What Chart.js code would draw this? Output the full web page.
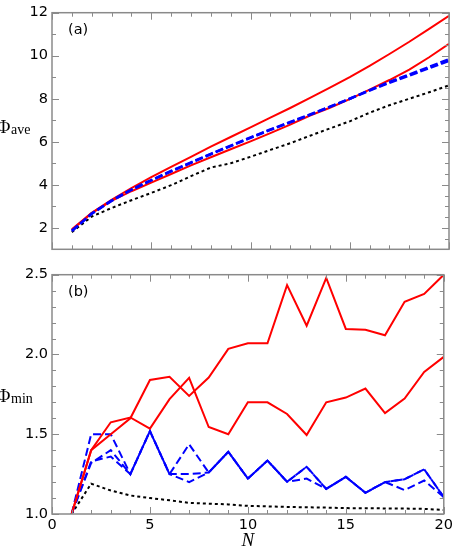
<!DOCTYPE html>
<html>
<head>
<meta charset="utf-8">
<script src="https://cdn.jsdelivr.net/npm/chart.js@4.4.0/dist/chart.umd.min.js"></script>
<style>
body { margin: 0; background: #fff; width: 456px; height: 550px; position: relative; overflow: hidden; }
#chartA { position: absolute; left: 0; top: 0; }
#chartB { position: absolute; left: 0; top: 262px; }
</style>
</head>
<body>
<canvas id="chartA" width="456" height="262"></canvas>
<canvas id="chartB" width="456" height="288"></canvas>
<script>
// N on the x axis
var N = [1, 2, 3, 4, 5, 6, 7, 8, 9, 10, 11, 12, 13, 14, 15, 16, 17, 18, 19, 20];
var xTicks = [0, 5, 10, 15, 20];

// panel (a): Phi_ave
var aveTicks = [2, 4, 6, 8, 10, 12];
var aveRedUpper = [1.93, 2.70, 3.30, 3.85, 4.35, 4.83, 5.30, 5.77, 6.22, 6.67, 7.12, 7.57, 8.04, 8.52, 9.00, 9.53, 10.08, 10.65, 11.25, 11.85];
var aveRedLower = [1.90, 2.68, 3.25, 3.70, 4.10, 4.50, 4.90, 5.28, 5.65, 6.02, 6.40, 6.80, 7.22, 7.58, 7.98, 8.42, 8.87, 9.35, 9.93, 10.55];
var aveBlue1 = [1.86, 2.66, 3.27, 3.78, 4.22, 4.64, 5.04, 5.44, 5.82, 6.20, 6.57, 6.92, 7.27, 7.63, 8.00, 8.38, 8.74, 9.08, 9.42, 9.76];
var aveBlue2 = [1.85, 2.65, 3.25, 3.76, 4.20, 4.62, 5.02, 5.42, 5.80, 6.18, 6.55, 6.90, 7.25, 7.62, 8.00, 8.40, 8.78, 9.13, 9.48, 9.84];
var aveBlack = [1.80, 2.52, 2.92, 3.28, 3.62, 3.98, 4.40, 4.80, 5.00, 5.30, 5.62, 5.93, 6.28, 6.62, 6.95, 7.35, 7.70, 8.00, 8.30, 8.62];

// panel (b): Phi_min
var minTicks = [1.0, 1.5, 2.0, 2.5];
var minRedA = [1.0, 1.40, 1.50, 1.60, 1.84, 1.86, 1.74, 1.855, 2.035, 2.07, 2.07, 2.435, 2.18, 2.48, 2.16, 2.155, 2.12, 2.33, 2.38, 2.50];
var minRedB = [1.0, 1.40, 1.575, 1.605, 1.535, 1.72, 1.853, 1.545, 1.50, 1.70, 1.70, 1.627, 1.495, 1.70, 1.73, 1.786, 1.633, 1.724, 1.89, 1.985];
var minBlue1 = [1.0, 1.50, 1.50, 1.25, 1.52, 1.25, 1.25, 1.26, 1.39, 1.222, 1.335, 1.202, 1.296, 1.157, 1.233, 1.133, 1.20, 1.218, 1.28, 1.106];
var minBlue2 = [1.0, 1.32, 1.40, 1.25, 1.52, 1.25, 1.437, 1.26, 1.39, 1.222, 1.335, 1.202, 1.222, 1.157, 1.233, 1.133, 1.20, 1.15, 1.21, 1.106];
var minBlue3 = [1.0, 1.33, 1.36, 1.25, 1.52, 1.25, 1.20, 1.26, 1.39, 1.222, 1.335, 1.202, 1.296, 1.157, 1.233, 1.133, 1.20, 1.218, 1.28, 1.106];
var minBlack = [1.0, 1.19, 1.147, 1.116, 1.10, 1.086, 1.07, 1.065, 1.06, 1.051, 1.048, 1.044, 1.042, 1.04, 1.037, 1.036, 1.035, 1.034, 1.032, 1.025];

var axisColor = '#8a8a8a';
Chart.defaults.font.family = "'DejaVu Sans'";
Chart.defaults.color = '#000';

function line(vals, color, width, dash) {
    return {
        data: N.map(function(n, i) { return {x: n, y: vals[i]}; }),
        borderColor: color,
        borderWidth: width,
        borderDash: dash || [],
        borderCapStyle: 'butt',
        pointRadius: 0,
        fill: false,
        tension: 0
    };
}

// frame, inward ticks, panel letter and axis labels
var framePlugin = {
    id: 'frame',
    afterDraw: function(chart, args, o) {
        var ctx = chart.ctx, a = chart.chartArea;
        var xs = chart.scales.x, ys = chart.scales.y;
        ctx.save();
        ctx.strokeStyle = axisColor;
        ctx.lineWidth = 1;
        ctx.beginPath();
        var i, v, p, len;
        for (i = 0; i <= 20; i++) {
            v = xs.min + i;
            p = Math.round(xs.getPixelForValue(v)) + 0.5;
            len = (i % 5 === 0) ? 7 : 4;
            ctx.moveTo(p, a.bottom); ctx.lineTo(p, a.bottom - len);
            ctx.moveTo(p, a.top); ctx.lineTo(p, a.top + len);
        }
        function yTicks(step, x, dir) {
            var n = Math.round((ys.max - ys.min) / step);
            for (var k = 0; k <= n; k++) {
                var val = ys.min + k * step;
                var major = o.majors.some(function(m) { return Math.abs(m - val) < 1e-6; });
                var py = Math.round(ys.getPixelForValue(val)) + 0.5;
                ctx.moveTo(x, py); ctx.lineTo(x + dir * (major ? 7 : 4), py);
            }
        }
        yTicks(o.leftStep, a.left, 1);
        yTicks(o.rightStep, a.right, -1);
        ctx.stroke();
        ctx.lineWidth = 1.5;
        ctx.strokeRect(a.left, a.top, a.right - a.left, a.bottom - a.top);

        ctx.fillStyle = '#000';
        ctx.font = "14.5px 'DejaVu Sans'";
        ctx.textBaseline = 'middle';
        ctx.textAlign = 'left';
        ctx.fillText(o.letter, a.left + 16, a.top + 18);

        ctx.textBaseline = 'alphabetic';
        ctx.textAlign = 'right';
        ctx.font = "19px 'Liberation Serif'";
        ctx.fillText('\u03A6', 10.5, a.top + o.labelY);
        ctx.textAlign = 'left';
        ctx.font = "14px 'Liberation Serif'";
        ctx.fillText(o.sub, 11, a.top + o.labelY + 1.5);

        if (o.xTitle) {
            ctx.textAlign = 'center';
            ctx.font = "italic 19px 'Liberation Serif'";
            ctx.fillText('N', (a.left + a.right) / 2, a.bottom + 31.5);
        }
        ctx.restore();
    }
};

function makeOptions(yMin, yMax, yTickVals, yFmt, showX, padTop, padBottom, frameOpts) {
    return {
        responsive: false,
        animation: false,
        layout: { padding: { left: 0, right: 7, top: padTop, bottom: padBottom } },
        plugins: { legend: { display: false }, tooltip: { enabled: false }, frame: frameOpts },
        scales: {
            x: {
                type: 'linear', min: 0, max: 20,
                display: showX,
                afterBuildTicks: function(s) { s.ticks = xTicks.map(function(v) { return {value: v}; }); },
                afterFit: function(s) { if (showX) s.height = 36; },
                grid: { display: false, drawTicks: false },
                border: { display: false },
                ticks: { padding: 3, maxRotation: 0, font: { size: 14.5 }, color: '#000' }
            },
            y: {
                type: 'linear', min: yMin, max: yMax,
                afterBuildTicks: function(s) { s.ticks = yTickVals.map(function(v) { return {value: v}; }); },
                afterFit: function(s) { s.width = 52; },
                grid: { display: false, drawTicks: false },
                border: { display: false },
                ticks: { padding: 4, font: { size: 14.5 }, color: '#000', callback: yFmt }
            }
        }
    };
}

new Chart(document.getElementById('chartA'), {
    type: 'line',
    data: {
        datasets: [
            line(aveBlue1, '#0000ff', 2.5, [8, 3]),
            line(aveBlue2, '#0000ff', 2.5, [8, 3]),
            line(aveRedUpper, '#ff0000', 2),
            line(aveRedLower, '#ff0000', 2),
            line(aveBlack, '#000000', 2, [3, 3])
        ]
    },
    options: makeOptions(1, 12, aveTicks, function(v) { return String(v); }, false, 8, 5,
        { majors: aveTicks, leftStep: 1, rightStep: 0.5, letter: '(a)', sub: 'ave', labelY: 120 }),
    plugins: [framePlugin]
});

new Chart(document.getElementById('chartB'), {
    type: 'line',
    data: {
        datasets: [
            line(minRedA, '#ff0000', 2),
            line(minRedB, '#ff0000', 2),
            line(minBlue1, '#0000ff', 2, [8, 4]),
            line(minBlue2, '#0000ff', 2, [8, 4]),
            line(minBlue3, '#0000ff', 2, [8, 4]),
            line(minBlack, '#000000', 2, [3, 3])
        ]
    },
    options: makeOptions(1.0, 2.5, minTicks, function(v) { return v.toFixed(1); }, true, 7, 0,
        { majors: minTicks, leftStep: 0.1, rightStep: 0.1, letter: '(b)', sub: 'min', labelY: 127, xTitle: true }),
    plugins: [framePlugin]
});
</script>
</body>
</html>
